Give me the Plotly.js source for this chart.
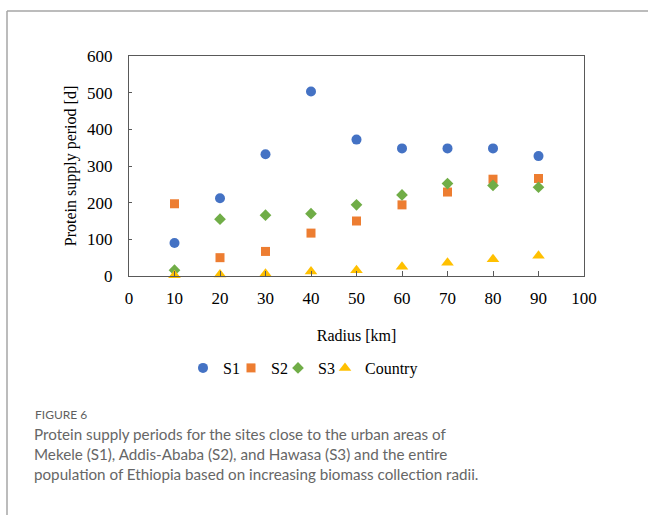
<!DOCTYPE html>
<html>
<head>
<meta charset="utf-8">
<script src="https://cdn.plot.ly/plotly-3.0.1.min.js"></script>
<style>
  html, body { margin: 0; padding: 0; background: #fff; }
  #chart { width: 648px; height: 515px; }
</style>
</head>
<body>
<div id="chart"></div>
<script>
const radius = [10, 20, 30, 40, 50, 60, 70, 80, 90];
const s1 = [90, 212, 332, 503, 372, 348, 348, 348, 327];
const s2 = [197, 50, 67, 117, 150, 194, 229, 264, 266];
const s3 = [16, 155, 166, 170, 194, 221, 252, 247, 242];
const country = [2, 4, 6, 12, 16, 25, 36, 46, 55];
const seriesNames = ["S1", "S2", "S3", "Country"];
const xTicks = [0, 10, 20, 30, 40, 50, 60, 70, 80, 90, 100];
const yTicks = [0, 100, 200, 300, 400, 500, 600];
const captionLabel = "FIGURE 6";
const captionLines = [
  "Protein supply periods for the sites close to the urban areas of",
  "Mekele (S1), Addis-Ababa (S2), and Hawasa (S3) and the entire",
  "population of Ethiopia based on increasing biomass collection radii."
];

// plot area in pixels
const L = 129, R = 584, T = 56, B = 276, W = 648, H = 515;
const px = x => (x - L) / (R - L);
const py = y => (B - y) / (B - T);

const serif = "Liberation Serif, Times New Roman, serif";
const sans = "Lato, Open Sans, Noto Sans, sans-serif";

const legendIds = ["legend", "legend2", "legend3", "legend4"];
const legendSymbolPx = [203, 251, 298, 345];

function trace(i, y, color, symbol, size) {
  return {
    type: "scatter", mode: "markers", name: seriesNames[i], x: radius, y: y,
    legend: legendIds[i],
    marker: { color: color, symbol: symbol, size: size, line: { width: 0 } },
    cliponaxis: false
  };
}

const data = [
  trace(0, s1, "#4472C4", "circle", 10),
  trace(1, s2, "#ED7D31", "square", 9),
  trace(2, s3, "#70AD47", "diamond", 9),
  trace(3, country, "#FFC000", "triangle-up", 11)
];

const annotations = [
  { text: captionLabel, xref: "paper", yref: "paper", x: px(33), y: py(414),
    xanchor: "left", yanchor: "middle", showarrow: false,
    font: { family: sans, size: 12, color: "#5f5f5f" } },
  { text: captionLines.join("<br>"), xref: "paper", yref: "paper", x: px(32), y: py(454),
    xanchor: "left", yanchor: "middle", align: "left", showarrow: false,
    font: { family: sans, size: 15.2, color: "#666666" } }
];

const layout = {
  width: W, height: H,
  margin: { l: L, r: W - R, t: T, b: H - B, pad: 0 },
  paper_bgcolor: "#fff", plot_bgcolor: "#fff",
  showlegend: true,
  xaxis: {
    range: [0, 100], tickvals: xTicks, ticktext: xTicks.map(String),
    showgrid: false, zeroline: false,
    showline: true, mirror: true, linecolor: "#595959", linewidth: 1,
    ticks: "inside", ticklen: 5, tickcolor: "#595959",
    tickfont: { family: serif, size: 17, color: "#000" },
    ticklabelstandoff: 7,
    title: { text: "Radius [km]", font: { family: serif, size: 16, color: "#000" }, standoff: 22 }
  },
  yaxis: {
    range: [0, 600], tickvals: yTicks, ticktext: yTicks.map(String),
    showgrid: false, zeroline: false,
    showline: true, mirror: true, linecolor: "#595959", linewidth: 1,
    ticks: "inside", ticklen: 3, tickcolor: "#595959",
    tickfont: { family: serif, size: 17, color: "#000" },
    ticklabelstandoff: 12,
    title: { text: "Protein supply period [d]", font: { family: serif, size: 16, color: "#000" }, standoff: 6 }
  },
  shapes: [
    { type: "line", xref: "paper", yref: "paper", x0: px(7), x1: px(7), y0: py(11), y1: py(520),
      line: { color: "#a6a6a6", width: 1.5 } },
    { type: "line", xref: "paper", yref: "paper", x0: px(7), x1: px(652), y0: py(11), y1: py(11),
      line: { color: "#a6a6a6", width: 1.5 } }
  ],
  annotations: annotations
};

legendIds.forEach((id, i) => {
  layout[id] = {
    orientation: "h", x: px(legendSymbolPx[i] - 20), xanchor: "left", y: py(368), yanchor: "middle",
    font: { family: serif, size: 16, color: "#000" },
    itemwidth: 30, bgcolor: "rgba(0,0,0,0)", borderwidth: 0
  };
});

Plotly.newPlot("chart", data, layout, { displayModeBar: false, staticPlot: true });
</script>
</body>
</html>
